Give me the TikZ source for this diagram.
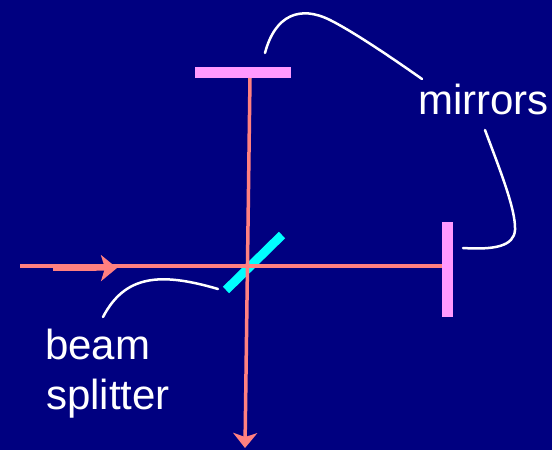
\documentclass[tikz,border=0pt]{standalone}
\usepackage{fontspec}
\setmainfont{Liberation Sans}
\usetikzlibrary{arrows.meta}
\definecolor{bg}{RGB}{0,0,128}
\definecolor{beamcol}{RGB}{255,128,128}
\definecolor{mirrorcol}{RGB}{255,153,255}
\definecolor{splitcol}{RGB}{0,255,255}
\begin{document}
\begin{tikzpicture}[x=1pt,y=-1pt,
  beamline/.style={draw=beamcol,line width=4pt},
  pointer/.style={draw=white,line width=2.5pt,line cap=round},
  mirrorbox/.style={fill=mirrorcol},
  lbl/.style={text=white,font=\fontsize{42}{48}\selectfont,inner sep=0pt,anchor=base west}]
\fill[bg] (0,0) rectangle (552,450);
\useasboundingbox (0,0) rectangle (552,450);
% mirrors
\fill[mirrorbox] (195,67) rectangle (291,78);
\fill[mirrorbox] (442,222) rectangle (453,317);
% beam splitter
\coordinate (bsA) at (226,290);
\coordinate (bsB) at (282,235);
\draw[draw=splitcol,line width=9pt] (bsA) -- (bsB);
% beams
\coordinate (src) at (20,265.5);
\coordinate (rm) at (442,265.5);
\coordinate (tm) at (250,78);
\coordinate (out) at (245,448);
\coordinate (arrS) at (53,268.3);
\coordinate (arrE) at (117,268);
\draw[beamline] (src) -- (rm);
\draw[beamline,line width=3.5pt,-{Stealth[length=15pt,width=24pt,inset=4pt]}] (tm) -- (out);
\draw[draw=beamcol,line width=5.3pt,-{Stealth[length=16pt,width=26pt,inset=4pt]}] (arrS) -- (arrE);
% pointers
\draw[pointer] (103,317) .. controls (125,275) and (160,272) .. (218,289);
\draw[pointer] (265,53) .. controls (275,15) and (300,5) .. (330,20) .. controls (354,32) and (395,60) .. (422,79);
\draw[pointer] (485,130) .. controls (500,170) and (516,210) .. (515,230) .. controls (514,246) and (495,250) .. (463,248);
% labels
\node[lbl] (mirrors) at (418,114) {mirrors};
\node[lbl] (beam) at (45,359) {beam};
\node[lbl] (splitter) at (46,409) {splitter};
\end{tikzpicture}
\end{document}
